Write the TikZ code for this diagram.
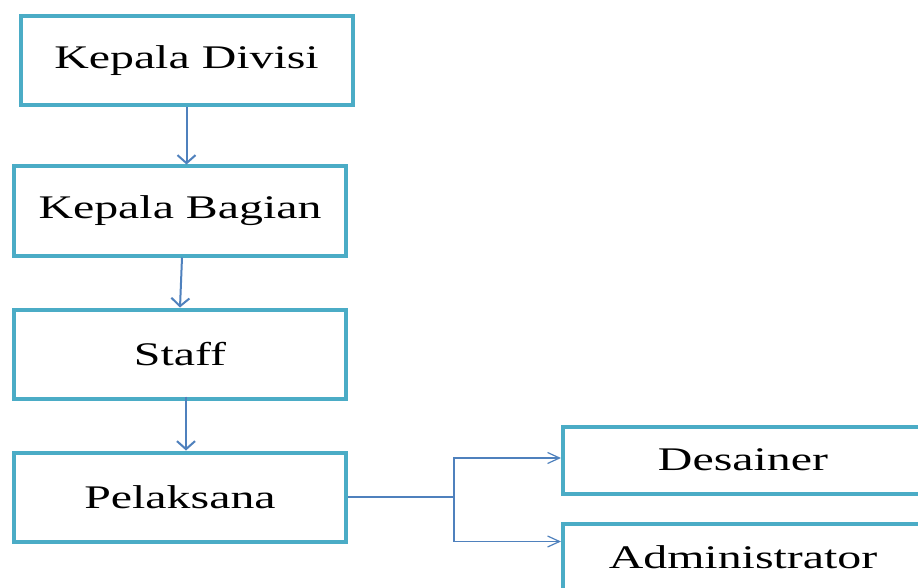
\documentclass[tikz,border=0pt]{standalone}
\usepackage{fontspec}
\setmainfont{Liberation Serif}[FakeStretch=1.45]
\usepackage{xcolor}
\usetikzlibrary{arrows.meta, positioning, calc}

\definecolor{boxline}{HTML}{4BACC6}
\definecolor{arrowline}{HTML}{4F81BD}

\tikzset{
    orgbox/.style={rectangle, draw=boxline, line width=4pt, fill=white,
        minimum width=332pt, minimum height=89pt, align=center,
        font=\fontsize{33}{40}\selectfont},
    subbox/.style={orgbox, minimum width=360pt, minimum height=67pt},
    flow/.style={draw=arrowline, line width=2pt, -{Straight Barb[length=8pt, width=18pt]}},
    branch/.style={draw=arrowline, line width=1.2pt, -{Straight Barb[length=12pt, width=11pt]}}
}

\begin{document}
\begin{tikzpicture}[x=1pt, y=-1pt, node distance=50pt]
    \clip (0,0) rectangle (918,588);
    \fill[white] (0,0) rectangle (918,588);

    \node[orgbox] (divisi) at (186.5,60.5) {Kepala Divisi};
    \node[orgbox] (bagian) at (180,211) {Kepala Bagian};
    \node[orgbox, below=of bagian] (staff) {Staff};
    \node[orgbox, below=of staff] (pelaksana) {Pelaksana};
    \node[subbox] (desainer) at (743,460) {Desainer};
    \node[subbox] (admin) at (743,557) {Administrator};

    \coordinate (split) at ($(pelaksana.east)+(106,0)$);
    \coordinate (adminin) at ($(admin.north west)+(0,20)$);

    \draw[flow] (divisi.south) -- (divisi.south |- bagian.north);
    \draw[flow] ($(bagian.south)+(2,0)$) -- (staff.north);
    \draw[flow] ($(staff.south)+(6,-4)$) -- ($(pelaksana.north)+(6,0)$);

    \draw[draw=arrowline, line width=1.2pt] (pelaksana.east) -- (split);
    \draw[branch] (split) |- ($(desainer.west)+(0,-2)$);
    \draw[branch] (split) |- (adminin);
\end{tikzpicture}
\end{document}
